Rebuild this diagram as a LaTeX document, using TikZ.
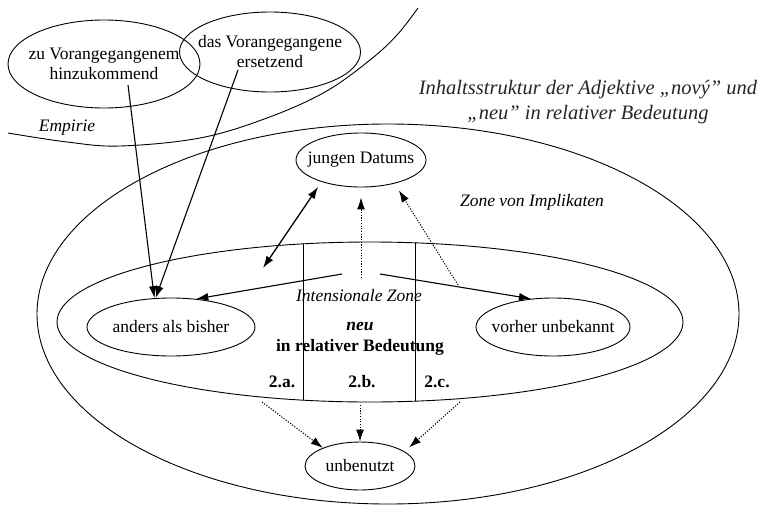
\documentclass[tikz,border=0pt]{standalone}
\usepackage{fontspec}
\setmainfont{Liberation Serif}
\usetikzlibrary{shapes.geometric,arrows.meta}
\newcommand{\labelfont}{\fontsize{17.5}{20}\selectfont}
\newcommand{\titlefont}{\fontsize{20.5}{24.5}\selectfont\itshape}

\begin{document}
\begin{tikzpicture}[x=1pt,y=-1pt,
    idea/.style={draw, ellipse, line width=0.9pt, inner xsep=-8pt, inner ysep=2pt, align=center, font=\labelfont},
    solidarrow/.style={line width=1.1pt, -{Latex[length=12pt,width=8pt]}},
    dotarrow/.style={line width=1pt, dash pattern=on 1.2pt off 1.5pt, -{Latex[length=12pt,width=8pt]}},
    zonetext/.style={font=\labelfont\itshape, anchor=base}]
    \useasboundingbox (0,0) rectangle (762,506);
    % Draw the two zones
    \draw[line width=0.9pt] (388,314) ellipse [x radius=351, y radius=190];
    \draw[line width=0.9pt] (370,322) ellipse [x radius=313, y radius=80];
    % Border of the Empirie
    \draw[line width=0.9pt] plot[smooth, tension=0.6] coordinates
        {(8,133) (67,142) (120,146) (200,138) (267,118) (325,92) (370,60) (397,35) (418,8)};
    % Lines between 2.a., 2.b. and 2.c.
    \begin{scope}
        \clip (370,322) ellipse [x radius=313, y radius=80];
        \draw[line width=0.8pt] (303,230) -- (303,420);
        \draw[line width=0.8pt] (415,230) -- (415,420);
    \end{scope}

    % Meanings
    \node[idea, minimum width=192pt, minimum height=88pt] (zu) at (104,64) {zu Vorangegangenem\\hinzukommend};
    \node[idea, minimum width=176pt, minimum height=80pt] (das) at (270,52) {das Vorangegangene\\ersetzend};
    \node[idea, minimum width=130pt, minimum height=54pt] (jungen) at (361,160) {jungen Datums};
    \node[idea, minimum width=168pt, minimum height=58pt] (anders) at (171,327) {anders als bisher};
    \node[idea, minimum width=154pt, minimum height=58pt] (vorher) at (553,327) {vorher unbekannt};
    \node[idea, minimum width=110pt, minimum height=48pt] (unben) at (360,466) {unbenutzt};

    % Labels
    \node[font=\titlefont, text=black!85, align=center, inner sep=0pt] (title) at (588,102)
        {Inhaltsstruktur der Adjektive „nový” und\\„neu” in relativer Bedeutung};
    \node[zonetext] (empirie) at (67,131) {Empirie};
    \node[zonetext] (implzone) at (532,206) {Zone von Implikaten};
    \node[zonetext] (intzone) at (359,301) {Intensionale Zone};
    \node[anchor=base, font=\labelfont\bfseries\itshape] (neu) at (360,330) {neu};
    \node[anchor=base, font=\labelfont\bfseries] (relbed) at (360,351) {in relativer Bedeutung};
    \node[anchor=base, font=\labelfont\bfseries] (varA) at (282,387) {2.a.};
    \node[anchor=base, font=\labelfont\bfseries] (varB) at (362,387) {2.b.};
    \node[anchor=base, font=\labelfont\bfseries] (varC) at (437,387) {2.c.};

    % Free ends of the arrows
    \coordinate (zuFoot) at (128,85);
    \coordinate (dasFoot) at (238,70);
    \coordinate (intTop) at (263,268);
    \coordinate (leftFork) at (342,274);
    \coordinate (rightFork) at (380,274);
    \coordinate (midFork) at (361,278);
    \coordinate (rightRise) at (458,285);
    \coordinate (footA) at (262,402);
    \coordinate (footB) at (360,405);
    \coordinate (footC) at (460,402);

    % Arrows
    \draw[solidarrow] (zuFoot) -- (anders.120);
    \draw[solidarrow] (dasFoot) -- (anders.118);
    \draw[line width=1.3pt, {Latex[length=12pt,width=8pt]}-{Latex[length=12pt,width=8pt]}, shorten >=6pt]
        (intTop) -- (jungen.209);
    \draw[solidarrow] (leftFork) -- (anders.48);
    \draw[solidarrow] (rightFork) -- (vorher.128);
    \draw[dotarrow, shorten >=10pt] (midFork) -- (jungen.south);
    \draw[dotarrow, shorten >=8pt] (rightRise) -- (jungen.-35);
    \draw[dotarrow] (footA) -- (unben.154);
    \draw[dotarrow] (footB) -- (unben.north);
    \draw[dotarrow, shorten >=6pt] (footC) -- (unben.18);
\end{tikzpicture}
\end{document}
